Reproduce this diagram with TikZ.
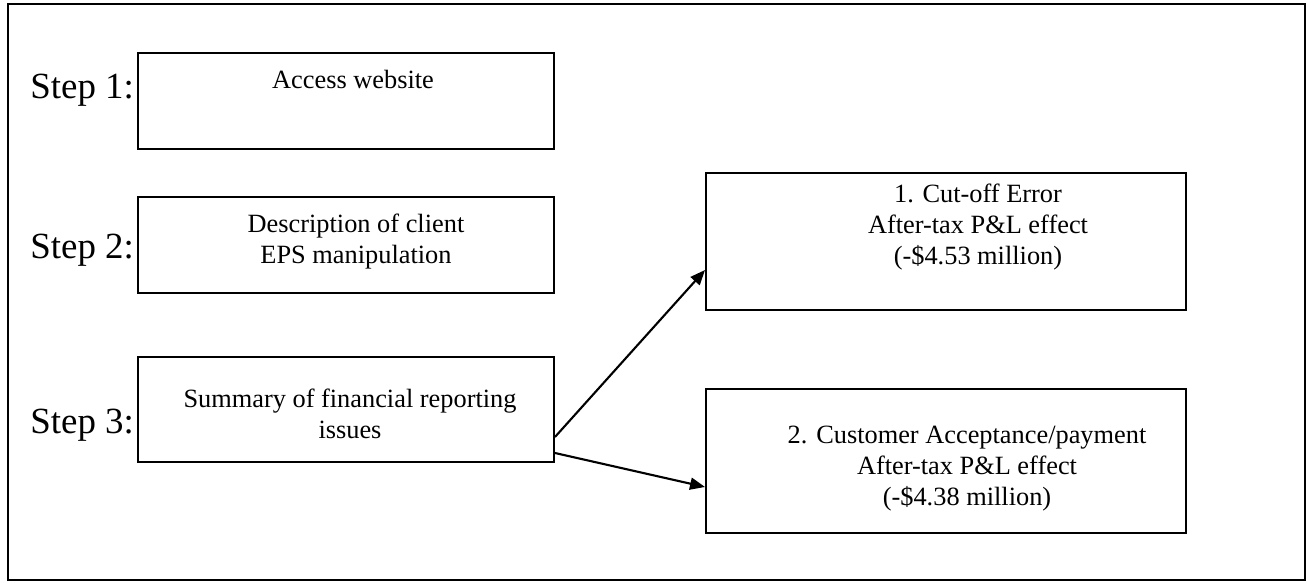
\documentclass[tikz,border=0pt]{standalone}
\usepackage{fontspec}
\setmainfont{Liberation Serif}
\usepackage{tikz}
\usetikzlibrary{positioning, fit, arrows.meta}
\tikzset{
    box/.style={
        draw, line width = 1.1pt,
        inner sep = 0pt
    },
    boxtext/.style={
        align = center, inner sep = 0pt,
        anchor = base,
        font = \fontsize{15}{17.4}\selectfont
    },
    steplabel/.style={
        inner sep = 0pt, anchor = base west,
        font = \fontsize{21}{24}\selectfont
    },
    line/.style = {-{Triangle[length=0.3cm, width=0.24cm]}, line width = 1.2pt}
}
\begin{document}
\begin{tikzpicture}[x=0.02cm, y=-0.02cm]

    % Page size
    \useasboundingbox (0,0) rectangle (1308,582);

    % Outer frame
    \draw[line width = 1.1pt] (8,4) rectangle (1305,580);

    % Step boxes
    \node[box, fit={(138,53) (554,149)}] (access) {};
    \node[box, fit={(138,197) (554,293)}] (descr) {};
    \node[box, fit={(138,357) (554,462)}] (summary) {};

    % Issue boxes
    \node[box, fit={(706,173) (1186,310)}] (cutoff) {};
    \node[box, fit={(706,389) (1186,533)}] (accept) {};

    % Step labels
    \node[steplabel] (s1) at (30,98) {Step 1:};
    \node[steplabel] (s2) at (30,258) {Step 2:};
    \node[steplabel] (s3) at (30,433) {Step 3:};

    % Box texts (anchored on the last line)
    \node[boxtext] (taccess) at (353,88) {Access website};
    \node[boxtext] (tdescr) at (356,263) {Description of client\\EPS manipulation};
    \node[boxtext] (tsummary) at (350,438) {Summary of financial reporting\\issues};
    \node[boxtext] (tcutoff) at (978,264) {1. Cut-off Error\\After-tax P\&L effect\\(-\$4.53 million)};
    \node[boxtext] (taccept) at (967,505) {2. Customer Acceptance/payment\\After-tax P\&L effect\\(-\$4.38 million)};

    % Arrows
    \draw[line] ([yshift=-0.55cm]summary.east) -- ([yshift=-0.57cm]cutoff.west);
    \draw[line] ([yshift=-0.87cm]summary.east) -- ([yshift=-0.52cm]accept.west);

\end{tikzpicture}
\end{document}
